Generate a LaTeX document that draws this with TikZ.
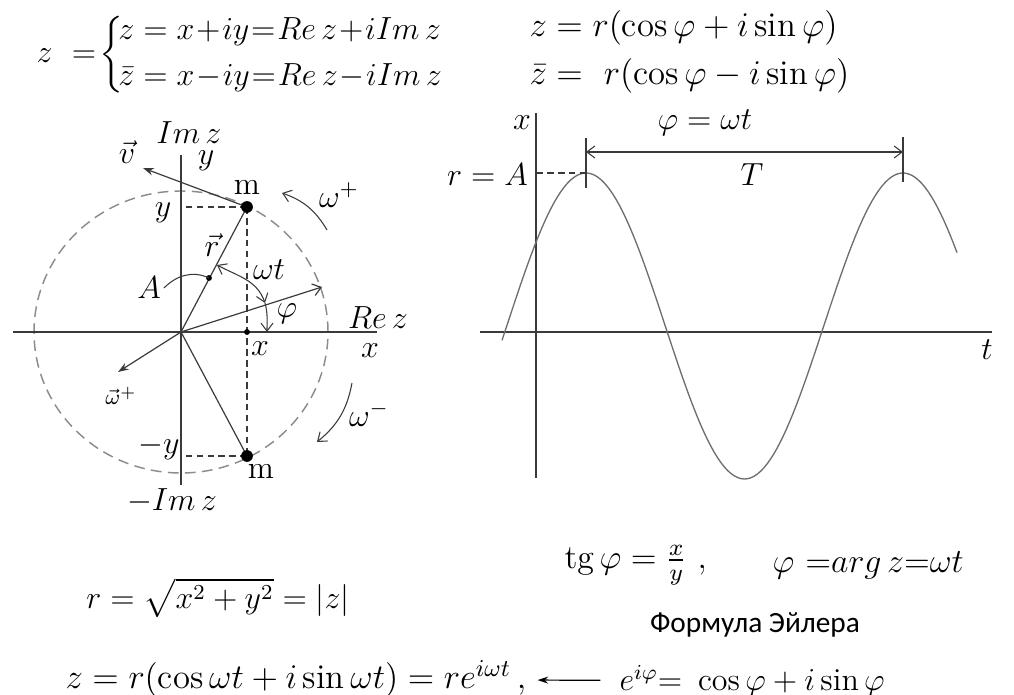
\RequirePackage{fix-cm}
\documentclass[tikz,border=0pt]{standalone}
\usepackage{amsmath,amssymb}
\usepackage{fontspec}
\newfontfamily\cyrfont{Carlito}
\usepackage{tikz}
\usetikzlibrary{arrows.meta,positioning,calc}
\definecolor{inkgray}{HTML}{3A3A3A}
\definecolor{circgray}{HTML}{8C8C8C}
\definecolor{wavegray}{HTML}{6E6E6E}

\begin{document}
\begin{tikzpicture}[x=0.375pt,y=0.375pt,
			>={Straight Barb[length=3pt,width=4.5pt]},
			axisline/.style={draw=inkgray,line width=0.45pt},
			dashline/.style={draw=inkgray,line width=0.4pt,dash pattern=on 2.5pt off 1.6pt},
			circline/.style={draw=circgray,line width=0.55pt,dash pattern=on 4pt off 2.4pt},
			vecarrow/.style={-{Stealth[length=4pt,width=2.8pt]},draw=inkgray,line width=0.45pt},
			dimarrow/.style={draw=inkgray,line width=0.4pt},
			wave/.style={draw=wavegray,line width=0.5pt},
			mdot/.style={fill=black},
			lbl/.style={inner sep=1pt,font=\fontsize{12}{14}\selectfont},
			eqn/.style={inner sep=0pt,font=\fontsize{12.7}{15}\selectfont}
			]
			\useasboundingbox (0,0) rectangle (1014,695);
			% formulas on top
			\node[eqn,anchor=west,font=\fontsize{12}{14}\selectfont] (zsys) at (36,640) {$z\ =\!\bigg\{\!\begin{array}{@{}l@{}} z = x\mkern1mu{+}\mkern1mu iy\mkern1mu{=}\mkern1mu Re\,z\mkern1mu{+}\mkern1mu iIm\,z\\[3.5pt] \bar z = x\mkern1mu{-}\mkern1mu iy\mkern1mu{=}\mkern1mu Re\,z\mkern1mu{-}\mkern1mu iIm\,z\end{array}$};
			\node[eqn,anchor=west,font=\fontsize{13}{15}\selectfont] (zpol) at (529,667) {$z = r(\cos\varphi + i\sin\varphi)$};
			\node[eqn,anchor=west,font=\fontsize{13}{15}\selectfont] (zbar) at (529,619) {$\bar z = \ r(\cos\varphi - i\sin\varphi)$};
			% complex plane
			\begin{scope}[shift={(181,363)}]
				\coordinate (O) at (0,0);
				\coordinate (m1) at (66,125);
				\coordinate (m2) at (66,-124);
				\coordinate (xp) at (66,0);
				\coordinate (rdot) at (28,54);
				\coordinate (vtip) at (-38,164);
				\coordinate (wtip) at (-63,-40);
				\coordinate (phiend) at (141,45);
				\coordinate (wtA) at (36,67);
				\coordinate (wtB) at (84,29);
				\coordinate (phiB) at (86,0);
				\draw[circline] (O) ellipse [x radius=147,y radius=141];
				\draw[axisline] (-168,0) -- (196,0);
				\draw[axisline] (0,-153) -- (0,177);
				\draw[dashline] (m1) -- (m2);
				\draw[dashline] (m1) -- (m1 -| O);
				\draw[dashline] (m2) -- (m2 -| O);
				\draw[axisline] (O) -- (m1);
				\draw[axisline] (O) -- (m2);
				\draw[vecarrow] (m1) -- (vtip);
				\draw[vecarrow] (O) -- (wtip);
				\draw[axisline,->] (O) -- (phiend);
				\draw[dimarrow,<->] (wtA) to[out=-28,in=109] (wtB);
				\draw[dimarrow,->] (wtB) to[out=-75,in=90] (phiB);
				\draw[dimarrow,->] (146,102) to[bend right=20] (101,139);
				\draw[dimarrow,->] (171,-51) to[bend left=20] (136,-110);
				\fill[mdot] (m1) circle (2.2pt);
				\fill[mdot] (m2) circle (2.2pt);
				\fill[mdot] (rdot) circle (1.1pt);
				\fill[mdot] (xp) circle (1.1pt);
				\node[lbl] (imz) at (8,199) {$Im\,z$};
				\node[lbl] (ylab) at (25,171) {$y$};
				\node[lbl] (vlab) at (-54,180) {$\vec v$};
				\node[lbl] (m1lab) at (66,145) {m};
				\node[lbl] (yleft) at (-18,119) {$y$};
				\node[lbl] (rlab) at (31,87) {$\vec r$};
				\node[lbl] (Alab) at (-32,44) {$A$};
				\node[lbl] (wtlab) at (88,62) {$\omega t$};
				\node[lbl] (philab) at (106,18) {$\varphi$};
				\node[lbl] (rez) at (197,14) {$Re\,z$};
				\node[lbl] (xaxlab) at (189,-19) {$x$};
				\node[lbl] (xlab) at (79,-17) {$x$};
				\node[lbl] (wplab) at (158,137) {$\omega^+$};
				\node[lbl] (wmlab) at (188,-82) {$\omega^-$};
				\node[lbl] (wveclab) at (-60,-64) {$\scriptstyle\vec\omega^+$};
				\node[lbl] (ymlab) at (-22,-115) {$-y$};
				\node[lbl] (m2lab) at (80,-139) {m};
				\node[lbl] (mimz) at (-9,-169) {$-Im\,z$};
				\draw[dimarrow] (Alab.east) to[out=45,in=155] (rdot);
			\end{scope}
			% oscillation x(t)
			\coordinate (pk1) at (586,522);
			\draw[axisline] (480,363) -- (992,363);
			\draw[axisline] (536,217) -- (536,582);
			\draw[wave] plot[domain=502:957,samples=140] (\x,{369+153*cos(1.13565*(\x-586))});
			\draw[dashline] (536,522) -- (pk1);
			\draw[dimarrow] (586,507) -- (586,557);
			\draw[dimarrow] (903,513) -- (903,558);
			\draw[dimarrow,<->] (586,543) -- (903,543);
			\node[lbl,anchor=east] (rA) at (531,520) {$r=A$};
			\node[lbl] (xt) at (522,572) {$x$};
			\node[lbl] (phiwt) at (705,572) {$\varphi = \omega t$};
			\node[lbl] (Tlab) at (752,520) {$T$};
			\node[lbl] (tlab) at (987,345) {$t$};
			% formulas below
			\node[eqn,font=\fontsize{12}{14}\selectfont] (rabs) at (218,97) {$r = \sqrt{x^2+y^2} = |z|$};
			\node[eqn,anchor=west] (tg) at (564,130) {$\mathrm{tg}\,\varphi = \frac{x}{y}\ ,$};
			\node[eqn,anchor=west] (arg) at (772,130) {$\varphi\ {=}arg\,z{=}\omega t$};
			\node[inner sep=1pt] (eulername) at (755,70) {\cyrfont\fontsize{11}{13}\selectfont Формула Эйлера};
			\node[eqn,anchor=west,font=\fontsize{13}{15}\selectfont] (zexp) at (65,16) {$z = r(\cos\omega t + i\sin\omega t) = re^{i\omega t}\,,$};
			\node[eqn,anchor=west,font=\fontsize{12}{14}\selectfont] (euler) at (619,14) {$e^{i\varphi}{=}\ \cos\varphi + i\sin\varphi$};
			\draw[-{Stealth[length=4pt,width=2.6pt]},line width=0.45pt,shorten <=7pt,shorten >=4pt] (euler) -- (zexp);
		\end{tikzpicture}
\end{document}
